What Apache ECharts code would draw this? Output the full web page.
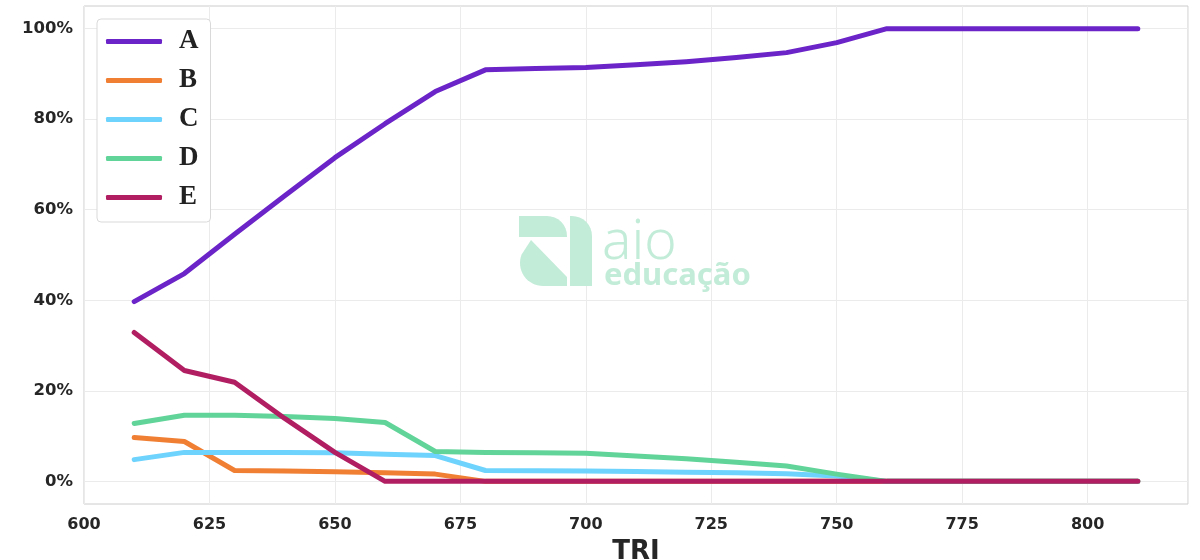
<!DOCTYPE html>
<html><head><meta charset="utf-8">
<script src="https://cdn.jsdelivr.net/npm/echarts@6/dist/echarts.min.js"></script>
<style>html,body{margin:0;padding:0;background:#fff}#c{width:1200px;height:560px}</style>
</head><body><div id="c"></div>
<script>
const xs = [610,620,630,640,650,660,670,680,690,700,710,720,730,740,750,760,770,780,790,800,810];
const seriesNames = ['A','B','C','D','E'];
const A = [39.7,45.9,54.6,63.1,71.5,79.0,86.1,90.9,91.2,91.4,92.0,92.7,93.6,94.7,96.9,100,100,100,100,100,100];
const B = [9.7,8.8,2.4,2.3,2.1,1.9,1.6,0,0,0,0,0,0,0,0,0,0,0,0,0,0];
const C = [4.8,6.4,6.4,6.4,6.3,6.0,5.7,2.4,2.35,2.3,2.2,2.0,1.9,1.7,1.2,0,0,0,0,0,0];
const D = [12.8,14.6,14.6,14.3,13.9,13.0,6.6,6.4,6.3,6.2,5.6,5.0,4.2,3.4,1.6,0,0,0,0,0,0];
const E = [32.9,24.5,21.9,13.9,6.4,0,0,0,0,0,0,0,0,0,0,0,0,0,0,0,0];
const xTicks = [600,625,650,675,700,725,750,775,800];
const yTicks = [0,20,40,60,80,100];
const colors = ['#6b24c8','#f07f34','#6ed3fd','#61d499','#b11f62'];
const values = [A,B,C,D,E];

const chart = echarts.init(document.getElementById('c'), null, {renderer:'canvas'});
const lineSeries = seriesNames.map((n,i)=>({
  name:n, type:'line', data: xs.map((x,j)=>[x, values[i][j]]),
  showSymbol:false, symbol:'none', z:3+i,
  lineStyle:{width:5, color:colors[i], cap:'round', join:'round'},
  itemStyle:{color:colors[i]}
}));
const wm = '#c3ecd8';
// logo lower-left piece outline (decoration)
const logoPts = [[531,240],[567,277],[567,286],[543,286]];
for (let k=1;k<=16;k++){ const a = Math.PI/2 + k*(Math.PI*0.62)/16; logoPts.push([543+23*Math.cos(a), 263+23*Math.sin(a)]); }
chart.setOption({
  animation:false,
  grid:{left:84, right:12, top:6, bottom:56, outerBoundsMode:'none', containLabel:false, show:true, borderColor:'#cccccc', borderWidth:1, backgroundColor:'transparent'},
  xAxis:{type:'value', min:600, max:820, interval:25,
    name:'TRI', nameLocation:'middle', nameGap:35,
    nameTextStyle:{fontFamily:'DejaVu Sans', fontWeight:'bold', fontSize:26, color:'#262626'},
    axisLine:{show:false}, axisTick:{show:false},
    axisLabel:{showMaxLabel:false, fontFamily:'DejaVu Sans', fontWeight:'bold', fontSize:16, color:'#262626', margin:13},
    splitLine:{show:true, lineStyle:{color:'#ebebeb', width:1}}
  },
  yAxis:{type:'value', min:-5, max:105,
    axisLine:{show:false}, axisTick:{show:false},
    axisLabel:{customValues:yTicks, formatter:'{value}%', fontFamily:'DejaVu Sans', fontWeight:'bold', fontSize:16.5, color:'#262626', margin:11},
    splitLine:{show:false}
  },
  legend:{
    data:seriesNames, orient:'vertical', left:97, top:19,
    icon:'roundRect', itemWidth:56, itemHeight:5, itemGap:12,
    padding:[9,12,11,9],
    backgroundColor:'#ffffff', borderColor:'#d9d9d9', borderWidth:1, borderRadius:4,
    textStyle:{fontFamily:'Liberation Serif', fontWeight:'bold', fontSize:27, lineHeight:27, color:'#222', padding:[0,0,0,12]}
  },
  graphic:[
    {type:'rect', z:1, shape:{x:519,y:216,width:48,height:21,r:[0,20,0,0]}, style:{fill:wm}},
    {type:'rect', z:1, shape:{x:570,y:216,width:22,height:70,r:[0,20,0,0]}, style:{fill:wm}},
    {type:'polygon', z:1, shape:{points:logoPts}, style:{fill:wm}},
    {type:'text', z:1, left:602, top:216, style:{text:'aio', fill:wm, font:'300 55px "Noto Sans"'}},
    {type:'text', z:1, left:604, top:261, style:{text:'educação', fill:wm, font:'bold 31px "Noto Sans"'}}
  ],
  series:[{type:'line', data:[], z:1, silent:true,
    markLine:{silent:true, z:1, symbol:['none','none'], label:{show:false}, animation:false,
      lineStyle:{color:'#ebebeb', width:1, type:'solid'},
      data: yTicks.map(v=>({yAxis:v}))}
  }].concat(lineSeries)
});
</script></body></html>
